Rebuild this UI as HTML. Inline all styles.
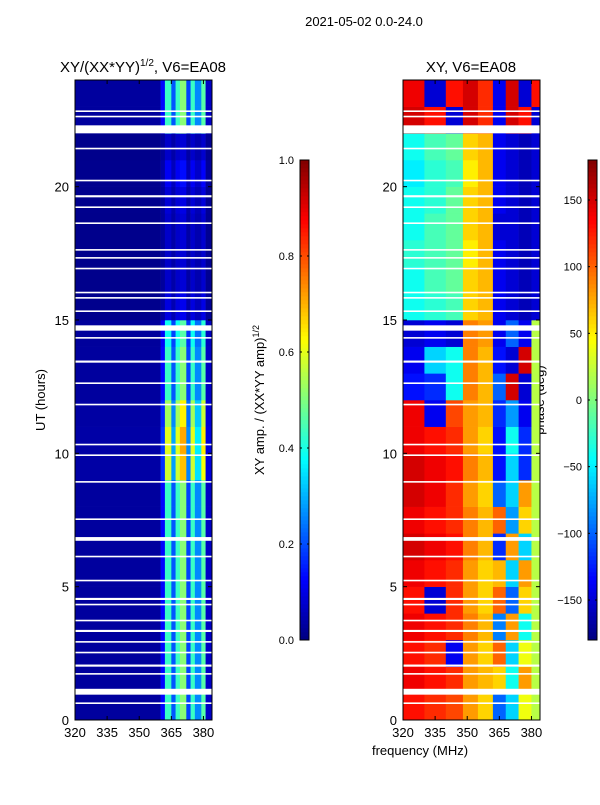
<!DOCTYPE html>
<html><head><meta charset="utf-8"><style>
body{margin:0;background:#fff;width:600px;height:800px;overflow:hidden}
svg text{font-family:"Liberation Sans",sans-serif;fill:#000}
</style></head><body>
<svg id="fig" width="600" height="800" xmlns="http://www.w3.org/2000/svg">
<text x="364" y="26" font-size="13" text-anchor="middle">2021-05-02 0.0-24.0</text>
<text x="143" y="72" font-size="15" text-anchor="middle">XY/(XX*YY)<tspan font-size="10" dy="-6">1/2</tspan><tspan dy="6">, V6=EA08</tspan></text>
<text x="471" y="72" font-size="15" text-anchor="middle">XY, V6=EA08</text>
<text transform="translate(45,400) rotate(-90)" font-size="13" text-anchor="middle">UT (hours)</text>
<text x="420" y="755" font-size="13" text-anchor="middle">frequency (MHz)</text>
<text transform="translate(264,400) rotate(-90)" font-size="13" text-anchor="middle">XY amp. / (XX*YY amp)<tspan font-size="9" dy="-5">1/2</tspan></text>
<text transform="translate(544,400) rotate(-90)" font-size="13" text-anchor="middle">phase (deg)</text>
<g id="g"></g>
</svg>
<script>
// ---- data ----
const ampColEdges=[320,360,362,365,367,369,372,374,376,379,381,384];
const ampColBase=[0.02,0.12,0.42,0.2,0.42,0.5,0.18,0.42,0.25,0.45,0.06];
const ampHourScale=[1,1,1,1,1,1,1,1,1,1.35,1.4,1.25,1,1,0.9,0.2,0.15,0.15,0.15,0.18,0.25,0.15,1,1];
const phaseColEdges=[320,330,340,348,355,362,368,374,380,384];
const phaseGrid=[
[130,120,110,80,60,-100,-60,40,20],[140,130,120,80,70,60,-40,80,20],[130,120,-140,80,60,100,-60,40,20],
[140,130,120,90,70,-90,80,-40,20],[130,-150,120,80,60,100,-100,60,20],[140,130,120,80,60,70,-60,80,20],
[150,140,130,90,70,-120,80,-60,20],[140,130,120,90,70,100,-80,60,20],[150,140,120,80,60,-100,-60,80,20],
[150,140,130,90,70,-130,-60,-120,20],[140,130,120,80,60,-130,-40,-120,20],[140,-140,110,80,70,-120,-80,-140,20],
[-130,-120,-40,90,70,-100,150,-150,20],[-140,-60,-40,90,70,-130,-150,150,20],[-150,-140,-150,90,80,-140,-100,-140,20],
[-40,-30,-20,60,70,-140,-150,-160,-150],[-40,-20,-10,60,70,-140,-150,-160,-150],[-30,-20,-10,50,70,-140,-150,-160,-150],
[-40,-20,-10,60,70,-150,-150,-160,-150],[-40,-30,-10,60,70,-140,-150,-160,-150],[-50,-30,-20,50,70,-140,-150,-160,-150],
[-40,-20,-10,60,70,-140,-150,-160,-150],[150,130,-150,150,120,-140,150,130,-150],[140,-150,130,150,120,-140,150,-150,130]];
const gapStart=[22.0,0.95,6.72,14.6,22.6,22.8,21.4,20.2,19.6,19.2,18.6,17.6,17.3,16.9,16.0,15.8,15.3,14.3,13.4,12.6,11.8,10.3,9.9,8.9,7.5,6.1,5.2,4.5,4.3,3.7,3.3,2.9,2.5,2.0,1.7,0.6];
const gapLen=[0.3,0.22,0.14,0.2,0.06,0.06,0.06,0.06,0.08,0.06,0.06,0.06,0.06,0.06,0.06,0.06,0.06,0.06,0.08,0.06,0.06,0.06,0.06,0.06,0.06,0.06,0.06,0.08,0.06,0.06,0.08,0.06,0.06,0.08,0.06,0.06];
const yTicks=[0,5,10,15,20];
const xTicks=[320,335,350,365,380];
const ampTicks=[0,0.2,0.4,0.6,0.8,1.0];
const phaseTicks=[-150,-100,-50,0,50,100,150];
// ---- helpers ----
const NS="http://www.w3.org/2000/svg",G=document.getElementById('g');
function el(t,a){const e=document.createElementNS(NS,t);for(const k in a)e.setAttribute(k,a[k]);G.appendChild(e);return e;}
function jet(v){v=Math.max(0,Math.min(1,v));const r=Math.min(1,Math.max(0,1.5-Math.abs(4*v-3))),g=Math.min(1,Math.max(0,1.5-Math.abs(4*v-2))),b=Math.min(1,Math.max(0,1.5-Math.abs(4*v-1)));return `rgb(${r*255|0},${g*255|0},${b*255|0})`;}
const Y0=720,Y1=80,yS=h=>Y0-(h/24)*(Y0-Y1);
const panels=[{x0:75,x1:212,name:'amp'},{x0:403,x1:540,name:'phase'}];
const xS=(p,f)=>p.x0+(f-320)/(384-320)*(p.x1-p.x0);
let p=panels[0];
for(let h=0;h<24;h++)for(let c=0;c<ampColBase.length;c++){
 const v=Math.min(1,0.01+ampColBase[c]*ampHourScale[h]);
 const r=el('rect',{x:xS(p,ampColEdges[c]),y:yS(h+1),width:xS(p,ampColEdges[c+1])-xS(p,ampColEdges[c])+0.3,height:yS(h)-yS(h+1)+0.3,fill:jet(v)});
 
 
}
p=panels[1];
for(let h=0;h<24;h++)for(let c=0;c<phaseGrid[h].length;c++){
 const v=(phaseGrid[h][c]+180)/360;
 const r=el('rect',{x:xS(p,phaseColEdges[c]),y:yS(h+1),width:xS(p,phaseColEdges[c+1])-xS(p,phaseColEdges[c])+0.3,height:yS(h)-yS(h+1)+0.3,fill:jet(v)});
 
 
}
panels.forEach(p=>{
 for(let i=0;i<gapStart.length;i++){
  const r=el('rect',{x:p.x0,y:yS(gapStart[i]+gapLen[i]),width:p.x1-p.x0,height:yS(gapStart[i])-yS(gapStart[i]+gapLen[i]),fill:'#fff'});
  
  
 }
 const fr=el('rect',{x:p.x0,y:Y1,width:p.x1-p.x0,height:Y0-Y1,fill:'none',stroke:'#000','stroke-width':1});
 
 
 yTicks.forEach(t=>{const y=yS(t);
  el('line',{x1:p.x0,x2:p.x0+4,y1:y,y2:y,stroke:'#000'});el('line',{x1:p.x1,x2:p.x1-4,y1:y,y2:y,stroke:'#000'});
  const tx=el('text',{x:p.x0-6,y:y+5,'font-size':13,'text-anchor':'end'});tx.textContent=t;
  
  });
 xTicks.forEach(t=>{const x=xS(p,t);
  el('line',{x1:x,x2:x,y1:Y0,y2:Y0-4,stroke:'#000'});el('line',{x1:x,x2:x,y1:Y1,y2:Y1+4,stroke:'#000'});
  const tx=el('text',{x:x,y:Y0+17,'font-size':13,'text-anchor':'middle'});tx.textContent=t;
  
  });
});
function cbar(x,ticks,lo,hi,name){
 for(let i=0;i<120;i++){const v=i/120;el('rect',{x:x,y:640-(i+1)*4,width:9,height:4.3,fill:jet(v+1/240)});}
 const f=el('rect',{x:x,y:160,width:9,height:480,fill:'none',stroke:'#000'});
 
 
 ticks.forEach(t=>{const y=640-(t-lo)/(hi-lo)*480;
  el('line',{x1:x,x2:x+2,y1:y,y2:y,stroke:'#000'});el('line',{x1:x+9,x2:x+7,y1:y,y2:y,stroke:'#000'});
  const tx=el('text',{x:x-6,y:y+4,'font-size':11,'text-anchor':'end'});
  tx.textContent=name==='amp-colorbar'?t.toFixed(1):(t<0?'\u2212'+(-t):t);
  
  });
}
cbar(300,ampTicks,0,1,'amp-colorbar');
cbar(588,phaseTicks,-180,180,'phase-colorbar');
</script>
</body></html>
